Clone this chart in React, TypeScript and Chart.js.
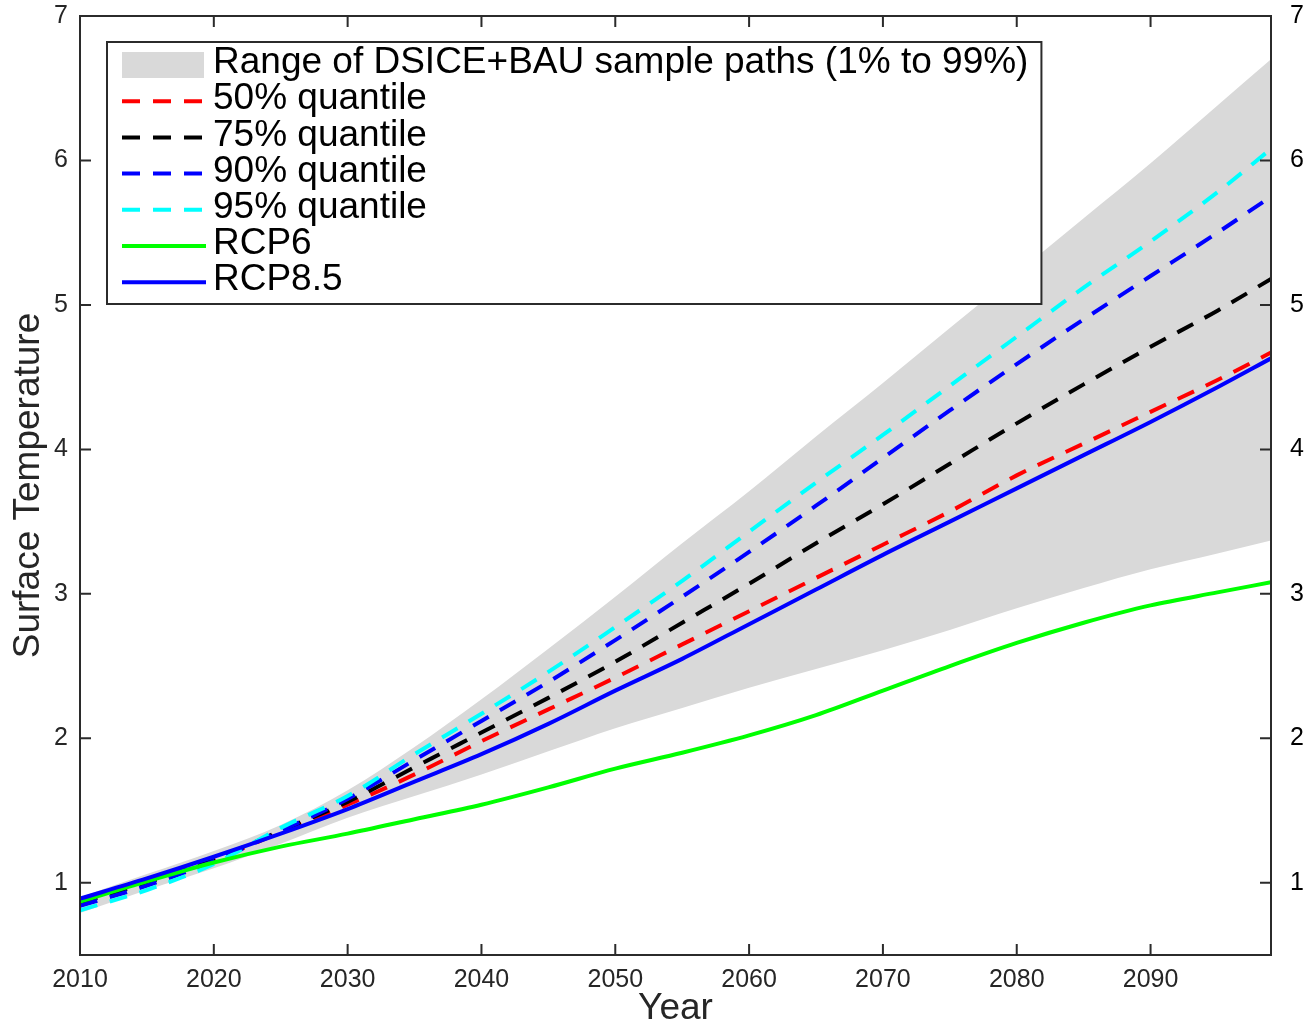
import { useEffect, useRef } from 'react';
import { Chart, registerables } from 'chart.js';

Chart.register(...registerables);

const FONT = '"Liberation Sans", Arial, Helvetica, sans-serif';

const years = [2010, 2015, 2020, 2025, 2030, 2035, 2040, 2045, 2050, 2055, 2060, 2065, 2070, 2075, 2080, 2085, 2090, 2095, 2099];

const bandLower = [0.79, 0.95, 1.10, 1.27, 1.45, 1.60, 1.75, 1.91, 2.07, 2.21, 2.35, 2.48, 2.61, 2.75, 2.90, 3.04, 3.17, 3.28, 3.37];
const bandUpper = [0.90, 1.06, 1.22, 1.40, 1.64, 1.94, 2.27, 2.62, 2.98, 3.35, 3.71, 4.09, 4.46, 4.84, 5.22, 5.60, 5.98, 6.38, 6.70];
const q50 = [0.87, 1.01, 1.16, 1.35, 1.54, 1.75, 1.98, 2.20, 2.42, 2.65, 2.88, 3.11, 3.34, 3.57, 3.82, 4.04, 4.26, 4.48, 4.67];
const q75 = [0.86, 1.00, 1.16, 1.36, 1.56, 1.80, 2.04, 2.28, 2.53, 2.80, 3.07, 3.35, 3.62, 3.90, 4.18, 4.45, 4.71, 4.96, 5.18];
const q90 = [0.84, 0.98, 1.15, 1.36, 1.58, 1.85, 2.12, 2.39, 2.68, 2.98, 3.29, 3.61, 3.94, 4.27, 4.59, 4.90, 5.20, 5.50, 5.75];
const q95 = [0.81, 0.95, 1.13, 1.38, 1.60, 1.89, 2.17, 2.46, 2.77, 3.09, 3.43, 3.77, 4.10, 4.44, 4.78, 5.12, 5.44, 5.78, 6.08];
const rcp6 = [0.87, 1.01, 1.14, 1.25, 1.34, 1.44, 1.54, 1.66, 1.79, 1.90, 2.02, 2.16, 2.33, 2.50, 2.66, 2.80, 2.92, 3.01, 3.08];
const rcp85 = [0.89, 1.03, 1.18, 1.34, 1.51, 1.70, 1.89, 2.10, 2.33, 2.55, 2.79, 3.03, 3.27, 3.50, 3.73, 3.96, 4.19, 4.43, 4.63];

const xTickValues = [2010, 2020, 2030, 2040, 2050, 2060, 2070, 2080, 2090];
const yTickValues = [1, 2, 3, 4, 5, 6, 7];

const bandLabel = 'Range of DSICE+BAU sample paths (1% to 99%)';

const toPoints = (arr: number[]) => years.map((yr, i) => ({ x: yr, y: arr[i] }));

const DASH = [18, 13];

const framePlugin = {
  id: 'frameAndLegend',
  afterDatasetsDraw(chart: any) {
    const { ctx, chartArea: a, scales } = chart;
    ctx.save();
    ctx.strokeStyle = '#2b2b2b';
    ctx.lineWidth = 2;
    ctx.setLineDash([]);
    ctx.strokeRect(a.left, a.top, a.right - a.left, a.bottom - a.top);
    const tl = 11;
    ctx.beginPath();
    scales.x.ticks.forEach((t: any) => {
      const px = scales.x.getPixelForValue(t.value);
      ctx.moveTo(px, a.bottom);
      ctx.lineTo(px, a.bottom - tl);
      ctx.moveTo(px, a.top);
      ctx.lineTo(px, a.top + tl);
    });
    scales.y.ticks.forEach((t: any) => {
      const py = scales.y.getPixelForValue(t.value);
      ctx.moveTo(a.left, py);
      ctx.lineTo(a.left + tl, py);
      ctx.moveTo(a.right, py);
      ctx.lineTo(a.right - tl, py);
    });
    ctx.stroke();

    // legend
    const items = chart.data.datasets.filter((d: any) => d.label && d.label !== '_lower');
    const sorted = items.slice().sort((p: any, q: any) => p.legendIndex - q.legendIndex);
    ctx.font = `37px ${FONT}`;
    const textX = a.left + 133;
    let maxW = 0;
    sorted.forEach((d: any) => {
      maxW = Math.max(maxW, ctx.measureText(d.label).width);
    });
    const boxL = a.left + 27;
    const boxT = a.top + 26;
    const boxR = textX + maxW + 13;
    const boxB = a.top + 288;
    ctx.fillStyle = '#ffffff';
    ctx.fillRect(boxL, boxT, boxR - boxL, boxB - boxT);
    ctx.strokeStyle = '#2b2b2b';
    ctx.lineWidth = 2;
    ctx.strokeRect(boxL, boxT, boxR - boxL, boxB - boxT);

    const sx0 = a.left + 42;
    const sx1 = a.left + 124;
    sorted.forEach((d: any, i: number) => {
      const cy = a.top + 49 + 36.2 * i;
      if (d.fill !== false && d.fill !== undefined) {
        ctx.fillStyle = d.backgroundColor;
        ctx.fillRect(sx0, cy - 13, sx1 - sx0, 26);
      } else {
        ctx.beginPath();
        ctx.strokeStyle = d.borderColor;
        ctx.lineWidth = 4;
        ctx.setLineDash(d.borderDash || []);
        ctx.moveTo(sx0, cy);
        ctx.lineTo(d.borderDash ? sx1 : sx1 + 2, cy);
        ctx.stroke();
        ctx.setLineDash([]);
      }
      ctx.fillStyle = '#000000';
      ctx.textBaseline = 'middle';
      ctx.textAlign = 'left';
      ctx.fillText(d.label, textX, cy - 2);
    });
    ctx.restore();
  },
};

export default function App() {
  const ref = useRef<HTMLCanvasElement | null>(null);

  useEffect(() => {
    if (!ref.current) return;
    const lineBase = {
      pointRadius: 0,
      borderWidth: 4,
      fill: false,
      cubicInterpolationMode: 'monotone' as const,
    };
    const vFit = (w: number) => (s: any) => {
      s.width = w;
      s.paddingTop = 0;
      s.paddingBottom = 0;
    };
    const chart = new Chart(ref.current, {
      type: 'line',
      data: {
        datasets: [
          {
            label: '_lower',
            data: toPoints(bandLower),
            borderColor: 'transparent',
            borderWidth: 0,
            pointRadius: 0,
            fill: false,
            order: 10,
            cubicInterpolationMode: 'monotone',
          },
          {
            label: bandLabel,
            legendIndex: 0,
            data: toPoints(bandUpper),
            borderColor: 'transparent',
            backgroundColor: '#d9d9d9',
            borderWidth: 0,
            pointRadius: 0,
            fill: 0,
            order: 9,
            cubicInterpolationMode: 'monotone',
          },
          { ...lineBase, label: '50% quantile', legendIndex: 1, data: toPoints(q50), borderColor: '#ff0000', borderDash: DASH, order: 6 },
          { ...lineBase, label: '75% quantile', legendIndex: 2, data: toPoints(q75), borderColor: '#000000', borderDash: DASH, order: 5 },
          { ...lineBase, label: '90% quantile', legendIndex: 3, data: toPoints(q90), borderColor: '#0000ff', borderDash: DASH, order: 4 },
          { ...lineBase, label: '95% quantile', legendIndex: 4, data: toPoints(q95), borderColor: '#00ffff', borderDash: DASH, order: 3 },
          { ...lineBase, label: 'RCP6', legendIndex: 5, data: toPoints(rcp6), borderColor: '#00ff00', order: 2 },
          { ...lineBase, label: 'RCP8.5', legendIndex: 6, data: toPoints(rcp85), borderColor: '#0000ff', order: 1 },
        ] as any,
      },
      options: {
        animation: false,
        responsive: false,
        layout: { padding: { top: 16, left: 0, right: 0, bottom: 0 } },
        plugins: { legend: { display: false }, tooltip: { enabled: false } },
        scales: {
          x: {
            type: 'linear',
            position: 'bottom',
            min: 2010,
            max: 2099,
            grid: { display: false, drawTicks: false },
            border: { display: false },
            afterBuildTicks: (s: any) => {
              s.ticks = xTickValues.map((v) => ({ value: v }));
            },
            afterFit: (s: any) => {
              s.height = 70;
              s.paddingLeft = 0;
              s.paddingRight = 0;
            },
            ticks: {
              color: '#262626',
              font: { family: FONT, size: 25 },
              padding: 10,
              maxRotation: 0,
              autoSkip: false,
              callback: (v: any) => String(v),
            },
            title: {
              display: true,
              text: 'Year',
              color: '#262626',
              font: { family: FONT, size: 37, lineHeight: 1 },
              padding: { top: 0, bottom: -2.5 },
            },
          },
          y: {
            type: 'linear',
            position: 'left',
            min: 0.5,
            max: 7,
            grid: { display: false, drawTicks: false },
            border: { display: false },
            afterBuildTicks: (s: any) => {
              s.ticks = yTickValues.map((v) => ({ value: v }));
            },
            afterFit: vFit(80),
            ticks: {
              color: '#262626',
              font: { family: FONT, size: 25 },
              padding: 12,
              callback: (v: any) => String(v),
            },
            title: {
              display: true,
              text: 'Surface Temperature',
              color: '#262626',
              font: { family: FONT, size: 37, lineHeight: 1.1 },
              padding: { top: 8, bottom: 0 },
            },
          },
          y2: {
            type: 'linear',
            position: 'right',
            min: 0.5,
            max: 7,
            grid: { display: false, drawTicks: false },
            border: { display: false },
            afterBuildTicks: (s: any) => {
              s.ticks = yTickValues.map((v) => ({ value: v }));
            },
            afterFit: vFit(39),
            ticks: {
              color: '#000000',
              font: { family: FONT, size: 25 },
              padding: 19,
              callback: (v: any) => String(v),
            },
          },
        },
      } as any,
      plugins: [framePlugin],
    });
    return () => chart.destroy();
  }, []);

  return (
    <canvas
      ref={ref}
      width={1310}
      height={1025}
      style={{ position: 'fixed', left: 0, top: 0, display: 'block', width: '1310px', height: '1025px' }}
    />
  );
}
